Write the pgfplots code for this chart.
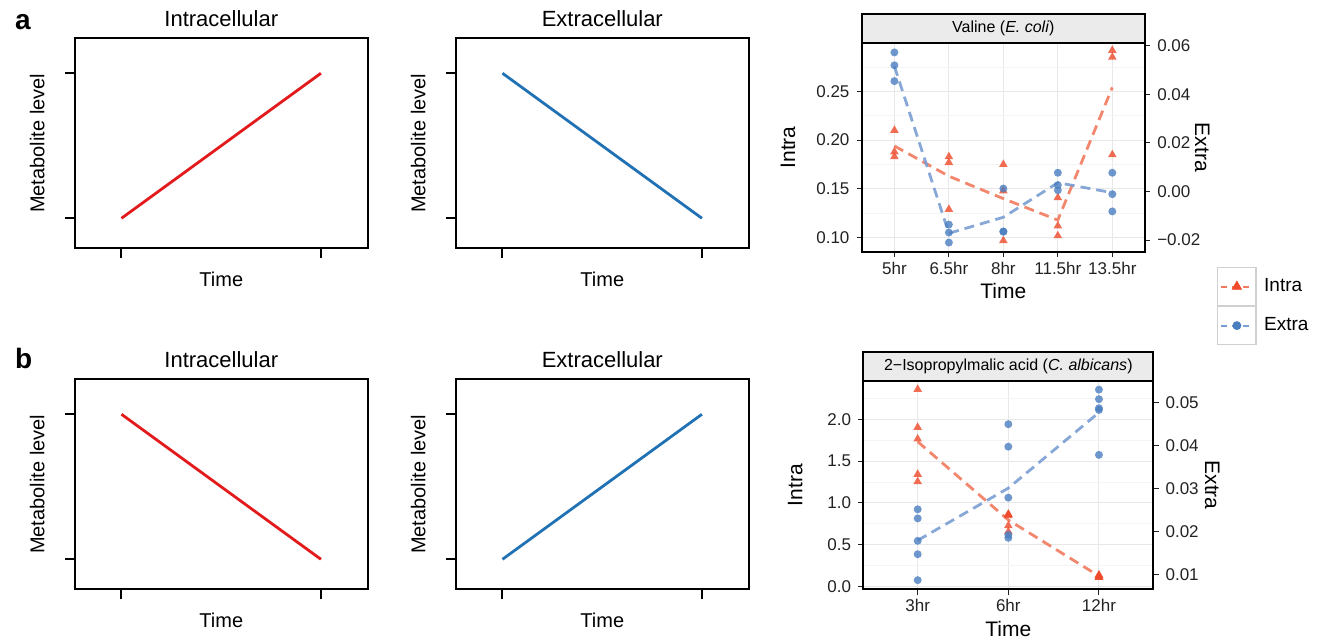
\documentclass[border=0pt]{standalone}
\usepackage{fontspec}
\setmainfont{Liberation Sans}
\setsansfont{Liberation Sans}
\usepackage{pgfplots}
\pgfplotsset{compat=1.18}

\newcommand{\fsz}[1]{\fontsize{#1}{#1}\selectfont}

\definecolor{intrapt}{HTML}{EE4A2B}
\definecolor{intraln}{HTML}{F27A5E}
\definecolor{extrapt}{HTML}{4A7EC0}
\definecolor{extraln}{HTML}{7A9ED3}
\definecolor{linered}{HTML}{E31A1C}
\definecolor{lineblue}{HTML}{2171B5}
\definecolor{stripgray}{HTML}{EBEBEB}
\definecolor{gridmaj}{HTML}{E8E8E8}
\definecolor{gridmin}{HTML}{F4F4F4}
\definecolor{keygray}{HTML}{D0D0D0}
\definecolor{txt}{HTML}{222222}

\pgfplotsset{
  sketch/.style={
    scale only axis, anchor=south west,
    width=146.3pt, height=105pt,
    xmin=-0.233, xmax=1.234, ymin=-0.207, ymax=1.241,
    xtick={0,1}, ytick={0,1}, xticklabels={}, yticklabels={},
    tick align=outside, tick pos=left, major tick length=5pt,
    tick style={line width=1pt, black},
    axis line style={line width=1pt, black},
    every axis title/.style={font=\fsz{11}, at={(axis description cs:0.5,1.054)}, anchor=base},
    xlabel=Time,
    xlabel style={font=\fsz{10}, at={(axis description cs:0.5,-0.18)}, anchor=base},
    ylabel={Metabolite level},
    ylabel style={font=\fsz{10}, at={(axis description cs:-0.105,0.5)}, anchor=base},
  },
  facet/.style={
    scale only axis, anchor=south west, clip=false,
    xmajorgrids, ymajorgrids, yminorgrids,
    major grid style={gridmaj, line width=0.5pt},
    minor grid style={gridmin, line width=0.4pt},
    axis line style={line width=0.9pt, black},
    tick align=outside, tick pos=left, major tick length=2.6pt,
    minor tick length=0pt,
    tick style={line width=0.5pt, color=txt},
    tick label style={font=\fsz{8.5}, text=txt},
    xticklabel style={yshift=1.2pt},
    xlabel=Time,
    xlabel style={font=\fsz{10.5}, anchor=base},
    ylabel=Intra,
    ylabel style={font=\fsz{10.5}, anchor=base},
  },
  facetR/.style={
    scale only axis, anchor=south west, clip=false,
    axis x line=none, axis y line*=right,
    scaled y ticks=false,
    axis line style={line width=0.9pt, black},
    tick align=outside, major tick length=2.6pt,
    tick style={line width=0.5pt, color=txt},
    tick label style={font=\fsz{8.5}, text=txt},
    ylabel=Extra,
    ylabel style={font=\fsz{10.5}, anchor=base, rotate=-180},
  },
  intrapts/.style={only marks, mark=triangle*, mark size=2.5pt, color=intrapt,
    mark options={solid, fill=intrapt, draw opacity=0, fill opacity=0.8}, forget plot},
  extrapts/.style={only marks, mark=*, mark size=2pt, color=extrapt,
    mark options={solid, fill=extrapt, draw opacity=0, fill opacity=0.8}, forget plot},
  intramean/.style={intraln, line width=1.4pt, dash pattern=on 5pt off 3pt,
    no marks, opacity=0.9, forget plot},
  extramean/.style={extraln, line width=1.4pt, dash pattern=on 5pt off 3pt,
    no marks, opacity=0.9, forget plot},
}

\begin{document}
\begin{tikzpicture}
\useasboundingbox (0,0) rectangle (660pt,319.5pt);

\node[font=\fsz{14}\bfseries, anchor=base west] at (4pt,305pt) {a};
\node[font=\fsz{14}\bfseries, anchor=base west] at (4pt,135.5pt) {b};

% ---- row a, schematic panels
\begin{axis}[sketch, at={(37.5pt,195.35pt)}, title={Intracellular}]
\addplot[linered, line width=1.4pt] coordinates {(0,0) (1,1)};
\end{axis}
\begin{axis}[sketch, at={(228pt,195.35pt)}, title={Extracellular}]
\addplot[lineblue, line width=1.4pt] coordinates {(0,1) (1,0)};
\end{axis}

% ---- row b, schematic panels
\begin{axis}[sketch, at={(37.5pt,24.85pt)}, title={Intracellular}]
\addplot[linered, line width=1.4pt] coordinates {(0,1) (1,0)};
\end{axis}
\begin{axis}[sketch, at={(228pt,24.85pt)}, title={Extracellular}]
\addplot[lineblue, line width=1.4pt] coordinates {(0,0) (1,1)};
\end{axis}

% ---- Valine (E. coli)
\begin{axis}[facet, at={(430.85pt,193.5pt)}, width=141.65pt, height=104.65pt,
  xmin=0.4, xmax=5.6, xtick={1,2,3,4,5},
  xticklabels={5hr,6.5hr,8hr,11.5hr,13.5hr},
  ymin=0.0853, ymax=0.2998,
  ytick={0.10,0.15,0.20,0.25}, yticklabels={0.10,0.15,0.20,0.25},
  minor ytick={0.125,0.175,0.225,0.275},
  xlabel style={at={(axis description cs:0.5,-0.22)}},
  ylabel style={at={(axis description cs:-0.235,0.5)}}]
\addplot[intrapts] coordinates {
  (1,0.210) (1,0.188) (1,0.183)
  (2,0.183) (2,0.177) (2,0.129)
  (3,0.175) (3,0.148) (3,0.097)
  (4,0.141) (4,0.112) (4,0.102)
  (5,0.292) (5,0.285) (5,0.185)};
\addplot[intramean] coordinates {(1,0.194) (2,0.163) (3,0.140) (4,0.118) (5,0.254)};
\draw[line width=0.9pt, fill=stripgray] (axis description cs:0,1) rectangle (axis description cs:1,1.137);
\node[font=\fsz{8}] at (axis description cs:0.5,1.0685) {Valine (\textit{E. coli})};
\end{axis}
\begin{axis}[facetR, at={(430.85pt,193.5pt)}, width=141.65pt, height=104.65pt,
  xmin=0.4, xmax=5.6,
  ymin=-0.0249, ymax=0.0612,
  ytick={-0.02,0,0.02,0.04,0.06},
  yticklabels={−0.02,0.00,0.02,0.04,0.06},
  ylabel style={at={(axis description cs:1.1765,0.5)}},
  legend style={at={(axis description cs:1.253,-0.0702)}, anchor=north west,
    draw=none, fill=none, inner sep=0pt, row sep=0pt, font=\fsz{9.5},
    nodes={inner sep=0pt}, legend cell align=left,
    /tikz/every odd column/.append style={column sep=3.8pt}}]
\addplot[extrapts] coordinates {
  (1,0.0572) (1,0.0519) (1,0.0454)
  (2,-0.0136) (2,-0.0169) (2,-0.0210)
  (3,0.0012) (3,-0.0165) (3,-0.0165)
  (4,0.0077) (4,0.0026) (4,0.0005)
  (5,0.0077) (5,-0.0011) (5,-0.0082)};
\addplot[extramean] coordinates {(1,0.0515) (2,-0.0172) (3,-0.0106) (4,0.0036) (5,-0.0005)};
\addlegendimage{legend image code/.code={
  \draw[keygray, line width=0.6pt, fill=white] (0pt,-9.45pt) rectangle (19.15pt,9.45pt);
  \draw[intraln, line width=0.9pt, dash pattern=on 3pt off 2.5pt] (1.5pt,0pt) -- (17.5pt,0pt);
  \fill[intrapt] (9.6pt,2.7pt) -- (7.3pt,-1.35pt) -- (11.9pt,-1.35pt) -- cycle;}}
\addlegendimage{legend image code/.code={
  \draw[keygray, line width=0.6pt, fill=white] (0pt,-9.45pt) rectangle (19.15pt,9.45pt);
  \draw[extraln, line width=0.9pt, dash pattern=on 3pt off 2.5pt] (1.5pt,0pt) -- (17.5pt,0pt);
  \fill[extrapt] (9.6pt,0pt) circle (2pt);}}
\legend{Intra,Extra}
\end{axis}

% ---- 2-Isopropylmalic acid (C. albicans)
\begin{axis}[facet, at={(431.65pt,24.85pt)}, width=145pt, height=104.15pt,
  xmin=0.4, xmax=3.6, xtick={1,2,3},
  xticklabels={3hr,6hr,12hr},
  ymin=-0.032, ymax=2.458,
  ytick={0,0.5,1,1.5,2}, yticklabels={0.0,0.5,1.0,1.5,2.0},
  minor ytick={0.25,0.75,1.25,1.75,2.25},
  xlabel style={at={(axis description cs:0.5,-0.2256)}},
  ylabel style={at={(axis description cs:-0.210,0.5)}}]
\addplot[intrapts] coordinates {
  (1,2.359) (1,1.904) (1,1.765) (1,1.343) (1,1.255)
  (2,0.865) (2,0.865) (2,0.850) (2,0.729) (2,0.657)
  (3,0.139) (3,0.135) (3,0.125) (3,0.112) (3,0.112)};
\addplot[intramean] coordinates {(1,1.733) (2,0.797) (3,0.127)};
\draw[line width=0.9pt, fill=stripgray] (axis description cs:0,1) rectangle (axis description cs:1,1.1407);
\node[font=\fsz{8}] at (axis description cs:0.5,1.0703) {2−Isopropylmalic acid (\textit{C. albicans})};
\end{axis}
\begin{axis}[facetR, at={(431.65pt,24.85pt)}, width=145pt, height=104.15pt,
  xmin=0.4, xmax=3.6,
  ymin=0.00668, ymax=0.0549,
  ytick={0.01,0.02,0.03,0.04,0.05},
  yticklabels={0.01,0.02,0.03,0.04,0.05},
  ylabel style={at={(axis description cs:1.179,0.5)}}]
\addplot[extrapts] coordinates {
  (1,0.0252) (1,0.0231) (1,0.0179) (1,0.0148) (1,0.0088)
  (2,0.0449) (2,0.0397) (2,0.0279) (2,0.0193) (2,0.0186)
  (3,0.0529) (3,0.0507) (3,0.0486) (3,0.0482) (3,0.0378)};
\addplot[extramean] coordinates {(1,0.0180) (2,0.0301) (3,0.0476)};
\end{axis}
\end{tikzpicture}
\end{document}
